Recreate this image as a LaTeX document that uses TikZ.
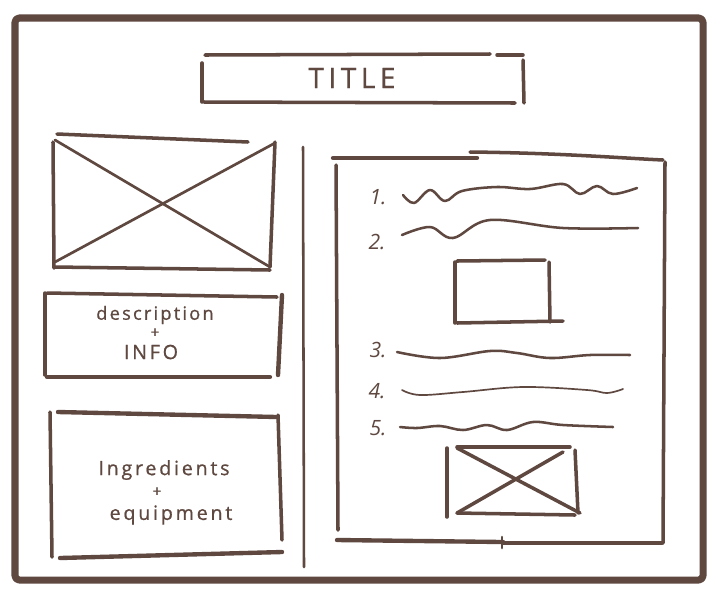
\documentclass[tikz,border=0pt]{standalone}
\usepackage{fontspec}
\setmainfont{Open Sans}
\definecolor{inkbrown}{HTML}{5E4840}
\begin{document}
\begin{tikzpicture}[x=0.025cm,y=-0.025cm,
  ink/.style={draw=inkbrown,line cap=round,line join=round},
  frame/.style={ink,line width=5pt,rounded corners=3pt},
  edge/.style={ink,line width=2.5pt},
  heavy/.style={ink,line width=3.1pt},
  thin/.style={ink,line width=1.9pt},
  wave/.style={ink,line width=1.8pt},
  label/.style={text=inkbrown,inner sep=0pt,align=center},
  num/.style={label,font=\fontsize{15}{16}\selectfont\itshape}]
\useasboundingbox (0,0) rectangle (720,600);
\fill[white] (0,0) rectangle (720,600);

% page frame
\draw[frame] (15,18) rectangle (703,580);

% title bar
\draw[edge] (205,55) -- (490,54);
\draw[edge] (497,55) -- (523,55);
\draw[edge] (202,63) -- (202,102);
\draw[edge] (204,102) -- (515,103);
\draw[edge] (523,60) -- (524,103);
\node[label,font=\fontsize{20}{21}\selectfont\addfontfeatures{LetterSpace=16,FakeBold=0.5}] (title) at (352,78) {TITLE};

% hero image placeholder
\draw[edge] (57,134) -- (248,142);
\draw[edge] (53,142) -- (54,268);
\draw[edge] (55,267) -- (270,270);
\draw[edge] (275,142) -- (270,267);
\draw[thin] (55,140) -- (270,267);
\draw[thin] (275,143) -- (55,262);

% description block
\draw[edge] (47,293) -- (277,297);
\draw[edge] (45,293) -- (45,375);
\draw[heavy] (47,377) -- (270,377);
\draw[heavy] (282,295) -- (278,375);
\node[label,font=\fontsize{13}{14}\selectfont\addfontfeatures{LetterSpace=12,FakeBold=0.8}] (desc) at (155,315) {description};
\node[label,font=\fontsize{11}{12}\selectfont\addfontfeatures{FakeBold=0.8}] (descplus) at (155,333) {+};
\node[label,font=\fontsize{14}{15}\selectfont\addfontfeatures{LetterSpace=14,FakeBold=0.8}] (info) at (151,352) {INFO};

% ingredients block
\draw[heavy] (58,412) -- (277,417);
\draw[edge] (50,412) -- (52,557);
\draw[edge] (278,415) -- (282,540);
\draw[heavy] (60,558) -- (282,552);
\node[label,font=\fontsize{14}{15}\selectfont\addfontfeatures{LetterSpace=14,FakeBold=0.8}] (ingr) at (164,470) {Ingredients};
\node[label,font=\fontsize{11}{12}\selectfont\addfontfeatures{FakeBold=0.8}] (ingrplus) at (157,492) {+};
\node[label,font=\fontsize{14}{15}\selectfont\addfontfeatures{LetterSpace=14,FakeBold=0.8}] (equip) at (171,515) {equipment};

% column divider
\draw[ink,line width=1.8pt] (303,147) -- (304,567);

% method panel
\draw[heavy] (333,158) -- (477,158);
\draw[edge] (470,152) .. controls (560,153) and (620,158) .. (663,160);
\draw[edge] (336,165) -- (338,530);
\draw[edge] (665,162) -- (663,543);
\draw[heavy] (337,540) -- (503,542);
\draw[edge] (503,543) -- (662,543);
\draw[thin] (502,537) -- (502,548);

% numbered steps
\node[num] (n1) at (378,197) {1.};
\node[num] (n2) at (377,242) {2.};
\node[num] (n3) at (378,350) {3.};
\node[num] (n4) at (377,391) {4.};
\node[num] (n5) at (378,428) {5.};

\draw[wave] plot[smooth,tension=0.6] coordinates {(403,195) (414,203) (430,190) (445,201) (462,191) (497,187) (530,189) (563,184) (580,194) (597,186) (613,194) (637,188)};
\draw[wave] plot[smooth,tension=0.6] coordinates {(402,235) (430,227) (453,238) (490,220) (563,228) (638,228)};
\draw[wave] plot[smooth,tension=0.6] coordinates {(397,352) (440,358) (490,351) (517,353) (550,358) (590,355) (630,355)};
\draw[ink,line width=1.2pt] plot[smooth,tension=0.6] coordinates {(402,390) (420,395) (463,392) (523,387) (587,390) (607,393) (623,389)};
\draw[wave] plot[smooth,tension=0.6] coordinates {(400,427) (417,428) (440,426) (463,430) (487,425) (507,430) (533,422) (563,425) (613,427)};

% inline image (plain)
\draw[edge] (455,262) -- (455,323);
\draw[edge] (457,261) -- (545,260);
\draw[edge] (549,262) -- (550,322);
\draw[edge] (457,323) -- (563,321);

% inline image (crossed)
\draw[edge] (447,448) -- (447,517);
\draw[edge] (457,447) -- (570,447);
\draw[edge] (575,450) -- (578,513);
\draw[edge] (457,513) -- (575,515);
\draw[edge] (457,448) -- (580,513);
\draw[edge] (563,452) -- (457,513);
\end{tikzpicture}
\end{document}
